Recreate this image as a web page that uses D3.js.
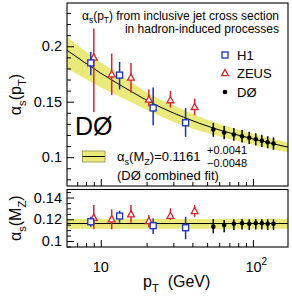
<!DOCTYPE html>
<html>
<head>
<meta charset="utf-8">
<script src="https://cdn.jsdelivr.net/npm/d3@7"></script>
<style>
  body { margin: 0; background: #fff; }
  svg text { font-family: "Liberation Sans", Arial, Helvetica, sans-serif; fill: #000; }
</style>
</head>
<body>
<script>
// ---- data ----
// H1 points
var h1Pt = [8.6, 13.3, 22.1, 36.1];
var h1Top = [0.185, 0.174, 0.1444, 0.131];
var h1TopUp = [0.1949, 0.1859, 0.1628, 0.1444];
var h1TopDn = [0.1739, 0.161, 0.1288, 0.1183];
var h1Mz = [0.1177, 0.123, 0.1141, 0.1122];
var h1MzUp = [0.1223, 0.1279, 0.1209, 0.1223];
var h1MzDn = [0.1131, 0.1168, 0.1064, 0.1016];

// ZEUS points
var zeusPt = [9.0, 11.8, 15.8, 20.7, 28.7, 41.4];
var zeusTop = [0.1898, 0.1748, 0.1718, 0.152, 0.1514, 0.1453];
var zeusTopUp = [0.2159, 0.1934, 0.185, 0.161, 0.1597, 0.1529];
var zeusTopDn = [0.1408, 0.1559, 0.158, 0.146, 0.1448, 0.1378];
var zeusMz = [0.1214, 0.12, 0.1246, 0.1184, 0.1233, 0.1276];
var zeusMzUp = [0.1331, 0.1291, 0.1331, 0.1239, 0.1301, 0.1331];
var zeusMzDn = [0.1108, 0.1108, 0.1168, 0.1126, 0.1193, 0.1223];

// D0 points
var d0Pt = [54.9, 64.7, 74.9, 84.8, 94.6, 104.4, 114.4, 125, 136.5];
var d0Top = [0.125, 0.1222, 0.1205, 0.1189, 0.1174, 0.1162, 0.1147, 0.1135, 0.1123];
var d0TopUp = [0.131, 0.128, 0.1262, 0.1245, 0.1229, 0.1216, 0.1201, 0.1189, 0.1178];
var d0TopDn = [0.1184, 0.1162, 0.1147, 0.1132, 0.1118, 0.1106, 0.1092, 0.108, 0.1067];
var d0Mz = [0.1132, 0.1147, 0.1159, 0.1163, 0.1159, 0.1163, 0.1163, 0.1159, 0.1159];
var d0MzUp = [0.1203, 0.1194, 0.12, 0.1203, 0.12, 0.1203, 0.1203, 0.12, 0.12];
var d0MzDn = [0.1071, 0.108, 0.1101, 0.1105, 0.1101, 0.1105, 0.1105, 0.1101, 0.1101];

// running alpha_s curve and its band (read at a few pT values)
var fitPt = [6, 10, 15.5, 20, 35, 55, 100, 170];
var fitMid = [0.1964, 0.1757, 0.16, 0.1514, 0.136, 0.1262, 0.1165, 0.109];
var fitHi = [0.2084, 0.1856, 0.1685, 0.1586, 0.1428, 0.1316, 0.1212, 0.1131];
var fitLo = [0.1799, 0.1631, 0.1503, 0.1428, 0.1283, 0.1203, 0.1113, 0.1042];

// combined alpha_s(MZ)
var asMz = 0.1161, asMzPlus = 0.0041, asMzMinus = 0.0048;

// ticks
var xMajor = [10, 100];
var xMinor = [7, 8, 9, 20, 30, 40, 50, 60, 70, 80, 90];
var yTopMajor = [0.1, 0.15, 0.2];
var yTopMinor = [0.08, 0.09, 0.11, 0.12, 0.13, 0.14, 0.16, 0.17, 0.18, 0.19, 0.21, 0.22, 0.23];
var yBotMajor = [0.1, 0.12, 0.14];
var yBotMinor = [0.095, 0.105, 0.11, 0.115, 0.125, 0.13, 0.135, 0.145];

// ---- layout ----
var width = 292, height = 300;
var left = 67, right = 288;
var topY0 = 3, topY1 = 186, botY0 = 189.5, botY1 = 247;

var svg = d3.select("body").append("svg")
    .attr("width", width)
    .attr("height", height);

var x = d3.scaleLog().domain([6, 170]).range([left, right]);
var yTop = d3.scaleLinear().domain([0.074, 0.239]).range([topY1, topY0]);
var yBot = d3.scaleLinear().domain([0.0945, 0.1474]).range([botY1, botY0]);

var yellow = "#e9e97c", blue = "#1f2fb5", red = "#d8262b";

// clip paths
var defs = svg.append("defs");
defs.append("clipPath").attr("id", "clipTop").append("rect")
    .attr("x", left).attr("y", topY0).attr("width", right - left).attr("height", topY1 - topY0);
defs.append("clipPath").attr("id", "clipBot").append("rect")
    .attr("x", left).attr("y", botY0).attr("width", right - left).attr("height", botY1 - botY0);

// text with sub/superscripts: parts = [[string, "sub"|"sup"|null], ...]
function richText(sel, parts, size) {
    var shift = 0;
    parts.forEach(function(p) {
        var want = p[1] == "sub" ? size * 0.3 : (p[1] == "sup" ? -size * 0.42 : 0);
        sel.append("tspan")
            .attr("dy", want - shift)
            .attr("font-size", p[1] ? size * 0.7 : size)
            .text(p[0]);
        shift = want;
    });
    return sel;
}

// ---- top panel ----
var gTop = svg.append("g");
var fitData = fitPt.map(function(p, i) { return {pt: p, mid: fitMid[i], hi: fitHi[i], lo: fitLo[i]}; });

gTop.append("path")
    .datum(fitData)
    .attr("clip-path", "url(#clipTop)")
    .attr("fill", yellow)
    .attr("d", d3.area()
        .curve(d3.curveMonotoneX)
        .x(function(d) { return x(d.pt); })
        .y0(function(d) { return yTop(d.lo); })
        .y1(function(d) { return yTop(d.hi); }));

gTop.append("path")
    .datum(fitData)
    .attr("clip-path", "url(#clipTop)")
    .attr("fill", "none")
    .attr("stroke", "#000")
    .attr("stroke-width", 1)
    .attr("d", d3.line()
        .curve(d3.curveMonotoneX)
        .x(function(d) { return x(d.pt); })
        .y(function(d) { return yTop(d.mid); }));

// ---- bottom panel band ----
var gBot = svg.append("g");
gBot.append("path")
    .datum(x.domain())
    .attr("clip-path", "url(#clipBot)")
    .attr("fill", yellow)
    .attr("d", d3.area()
        .x(function(d) { return x(d); })
        .y0(yBot(asMz - asMzMinus))
        .y1(yBot(asMz + asMzPlus)));
gBot.append("path")
    .datum(x.domain())
    .attr("fill", "none")
    .attr("stroke", "#000")
    .attr("stroke-width", 1)
    .attr("d", d3.line()
        .x(function(d) { return x(d); })
        .y(yBot(asMz)));

// ---- data points ----
function drawSeries(g, y, pts, vals, ups, dns, kind) {
    var col = kind == "h1" ? blue : (kind == "zeus" ? red : "#000");
    var data = pts.map(function(p, i) { return {pt: p, v: vals[i], up: ups[i], dn: dns[i]}; });
    var s = g.append("g").selectAll("g").data(data).enter().append("g");
    s.append("line")
        .attr("x1", function(d) { return x(d.pt); })
        .attr("x2", function(d) { return x(d.pt); })
        .attr("y1", function(d) { return y(d.up); })
        .attr("y2", function(d) { return y(d.dn); })
        .attr("stroke", col)
        .attr("stroke-width", 1.5);
    if (kind == "h1") {
        s.append("rect")
            .attr("x", function(d) { return x(d.pt) - 3; })
            .attr("y", function(d) { return y(d.v) - 3; })
            .attr("width", 6).attr("height", 6)
            .attr("fill", "#fff").attr("stroke", col).attr("stroke-width", 1.3);
    } else if (kind == "zeus") {
        s.append("path")
            .attr("d", function(d) {
                var cx = x(d.pt), cy = y(d.v);
                return "M" + (cx - 3.4) + "," + (cy + 2.6) + "L" + (cx + 3.4) + "," + (cy + 2.6) + "L" + cx + "," + (cy - 3.6) + "Z";
            })
            .attr("fill", "#fff").attr("stroke", col).attr("stroke-width", 1.3);
    } else {
        s.append("circle")
            .attr("cx", function(d) { return x(d.pt); })
            .attr("cy", function(d) { return y(d.v); })
            .attr("r", 2.3)
            .attr("fill", "#000");
    }
}

drawSeries(gTop, yTop, zeusPt, zeusTop, zeusTopUp, zeusTopDn, "zeus");
drawSeries(gTop, yTop, h1Pt, h1Top, h1TopUp, h1TopDn, "h1");
drawSeries(gTop, yTop, d0Pt, d0Top, d0TopUp, d0TopDn, "d0");
drawSeries(gBot, yBot, zeusPt, zeusMz, zeusMzUp, zeusMzDn, "zeus");
drawSeries(gBot, yBot, h1Pt, h1Mz, h1MzUp, h1MzDn, "h1");
drawSeries(gBot, yBot, d0Pt, d0Mz, d0MzUp, d0MzDn, "d0");

// ---- axes ----
function tidy(g) {
    g.select(".domain").remove();
    g.selectAll("line").attr("stroke", "#000").attr("stroke-width", 1);
    g.selectAll("text")
        .attr("font-family", "'Liberation Sans', Arial, sans-serif")
        .attr("font-size", 14.5)
        .attr("fill", "#000");
}

[[yTop, yTopMajor, yTopMinor], [yBot, yBotMajor, yBotMinor]].forEach(function(a) {
    svg.append("g")
        .attr("transform", "translate(" + left + ",0)")
        .call(d3.axisLeft(a[0]).tickValues(a[1]).tickSize(-7).tickPadding(5)
            .tickFormat(function(d) { return String(d); }))
        .call(tidy);
    svg.append("g")
        .attr("transform", "translate(" + left + ",0)")
        .call(d3.axisLeft(a[0]).tickValues(a[2]).tickSize(-4).tickFormat(""))
        .call(tidy);
});

[topY1, botY1].forEach(function(yb) {
    svg.append("g")
        .attr("transform", "translate(0," + yb + ")")
        .call(d3.axisBottom(x).tickValues(xMajor).tickSize(-7).tickFormat(""))
        .call(tidy);
    svg.append("g")
        .attr("transform", "translate(0," + yb + ")")
        .call(d3.axisBottom(x).tickValues(xMinor).tickSize(-4).tickFormat(""))
        .call(tidy);
});

// frames
[[topY0, topY1], [botY0, botY1]].forEach(function(r) {
    svg.append("rect")
        .attr("x", left).attr("y", r[0])
        .attr("width", right - left).attr("height", r[1] - r[0])
        .attr("fill", "none").attr("stroke", "#000").attr("stroke-width", 1.1);
});

// x tick labels
svg.append("text")
    .attr("x", x(10)).attr("y", 271.5)
    .attr("text-anchor", "middle").attr("font-size", 14.5)
    .text("10");
richText(svg.append("text")
    .attr("x", x(100) - 7.5).attr("y", 271.5)
    .attr("font-size", 14.5), [["10", null], ["2", "sup"]], 14.5);

// axis titles
richText(svg.append("text")
    .attr("x", 143).attr("y", 287)
    .attr("font-size", 16), [["p", null], ["T", "sub"], ["  (GeV)", null]], 16)
    .style("white-space", "pre");

richText(svg.append("text")
    .attr("transform", "translate(21," + ((topY0 + topY1) / 2) + ") rotate(-90)")
    .attr("text-anchor", "middle")
    .attr("font-size", 16), [["α", null], ["s", "sub"], ["(p", null], ["T", "sub"], [")", null]], 16);

richText(svg.append("text")
    .attr("transform", "translate(21," + ((botY0 + botY1) / 2) + ") rotate(-90)")
    .attr("text-anchor", "middle")
    .attr("font-size", 16), [["α", null], ["s", "sub"], ["(M", null], ["Z", "sub"], [")", null]], 16);

// title inside top panel
richText(svg.append("text")
    .attr("x", 279).attr("y", 19.5)
    .attr("text-anchor", "end")
    .attr("font-size", 12), [["α", null], ["s", "sub"], ["(p", null], ["T", "sub"], [") from inclusive jet cross section", null]], 12);
svg.append("text")
    .attr("x", 279).attr("y", 33)
    .attr("text-anchor", "end")
    .attr("font-size", 12)
    .text("in hadron-induced processes");

// legend
var legX = 225;
svg.append("rect")
    .attr("x", legX - 3).attr("y", 55 - 3).attr("width", 6).attr("height", 6)
    .attr("fill", "#fff").attr("stroke", blue).attr("stroke-width", 1.3);
svg.append("path")
    .attr("d", "M" + (legX - 3.4) + "," + (73 + 2.6) + "L" + (legX + 3.4) + "," + (73 + 2.6) + "L" + legX + "," + (73 - 3.6) + "Z")
    .attr("fill", "#fff").attr("stroke", red).attr("stroke-width", 1.3);
svg.append("circle").attr("cx", legX).attr("cy", 92).attr("r", 2.3).attr("fill", "#000");
[["H1", 59.5], ["ZEUS", 77.5], ["DØ", 96.5]].forEach(function(l) {
    svg.append("text").attr("x", 237).attr("y", l[1]).attr("font-size", 13).text(l[0]);
});

// big DØ
svg.append("text")
    .attr("x", 75).attr("y", 135)
    .attr("font-size", 25)
    .text("DØ");

// fit legend
svg.append("rect")
    .attr("x", 82.5).attr("y", 151).attr("width", 22.5).attr("height", 11)
    .attr("fill", yellow).attr("stroke", "#8f8f45").attr("stroke-width", 0.8);
svg.append("line")
    .attr("x1", 82.5).attr("x2", 105).attr("y1", 156.5).attr("y2", 156.5)
    .attr("stroke", "#000").attr("stroke-width", 1);
richText(svg.append("text")
    .attr("x", 117).attr("y", 161)
    .attr("font-size", 13), [["α", null], ["s", "sub"], ["(M", null], ["Z", "sub"], [")=" + asMz.toFixed(4), null]], 13);
svg.append("text").attr("x", 207).attr("y", 154).attr("font-size", 11)
    .text("+" + asMzPlus.toFixed(4));
svg.append("text").attr("x", 207).attr("y", 167).attr("font-size", 11)
    .text("\u2212" + asMzMinus.toFixed(4));
svg.append("text").attr("x", 117).attr("y", 180).attr("font-size", 13)
    .text("(DØ combined fit)");
</script>
</body>
</html>
